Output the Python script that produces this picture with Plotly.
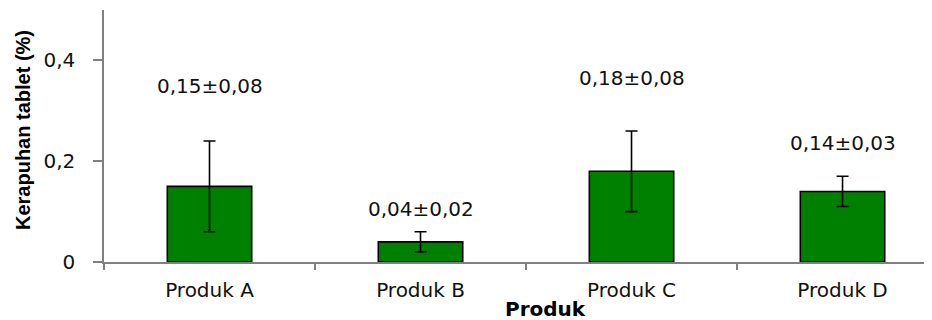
import plotly.graph_objects as go

categories = ["Produk A", "Produk B", "Produk C", "Produk D"]
means = [0.15, 0.04, 0.18, 0.14]
errors = [0.09, 0.02, 0.08, 0.03]
labels = ["0,15±0,08", "0,04±0,02", "0,18±0,08", "0,14±0,03"]
label_y = [0.35, 0.105, 0.365, 0.237]
y_tickvals = [0, 0.2, 0.4]
y_ticktext = ["0", "0,2", "0,4"]

# page body has an 8px margin, so figure coords = screen coords - 8
L, R, T, B = 96, 8, 2, 66
PW, PH = 932 - L - R, 320 - T - B

fig = go.Figure()
fig.add_trace(go.Bar(
    x=categories, y=means,
    marker=dict(color="#008000", line=dict(color="black", width=1.6)),
    width=0.4,
    error_y=dict(type="data", array=errors, visible=True,
                 color="black", thickness=1.6, width=6),
    showlegend=False,
))

for c, t, yy in zip(categories, labels, label_y):
    fig.add_annotation(x=c, y=yy, text=t, showarrow=False,
                       xref="x", yref="y",
                       font=dict(family="DejaVu Sans", size=20, color="#111"))

fig.add_annotation(xref="paper", yref="paper",
                   x=(537 - L) / PW, y=-(301 - (T + PH)) / PH,
                   xanchor="center", yanchor="middle",
                   text="<b>Produk</b>", showarrow=False,
                   font=dict(family="DejaVu Sans", size=20, color="black"))

fig.add_annotation(xref="paper", yref="paper",
                   x=-(L - 15) / PW, y=((T + PH) - 122) / PH,
                   xanchor="center", yanchor="middle",
                   text="<b>Kerapuhan tablet (%)</b>", textangle=-90, showarrow=False,
                   font=dict(family="Liberation Sans", size=20, color="black"))

fig.update_layout(
    width=932, height=320,
    margin=dict(l=L, r=R, t=T, b=B, autoexpand=False),
    plot_bgcolor="white", paper_bgcolor="white",
    separators=",.",
    font=dict(family="DejaVu Sans", color="#111"),
)
fig.update_xaxes(
    range=[-0.5, 3.424], automargin=False,
    showline=True, linecolor="#808080", linewidth=1.5,
    ticks="outside", tickson="boundaries", ticklen=6, tickcolor="#808080", tickwidth=1.5,
    tickfont=dict(family="DejaVu Sans", size=20, color="#111"),
    ticklabelstandoff=9,
    showgrid=False, zeroline=False,
)
fig.update_yaxes(
    range=[0, 0.5], automargin=False,
    tickvals=y_tickvals, ticktext=y_ticktext,
    showline=True, linecolor="#808080", linewidth=1.5,
    ticks="outside", ticklen=9, tickcolor="#808080", tickwidth=1.5,
    tickfont=dict(family="DejaVu Sans", size=20, color="#111"),
    ticklabelstandoff=14,
    showgrid=False, zeroline=False,
)

fig.write_html("out.html")
